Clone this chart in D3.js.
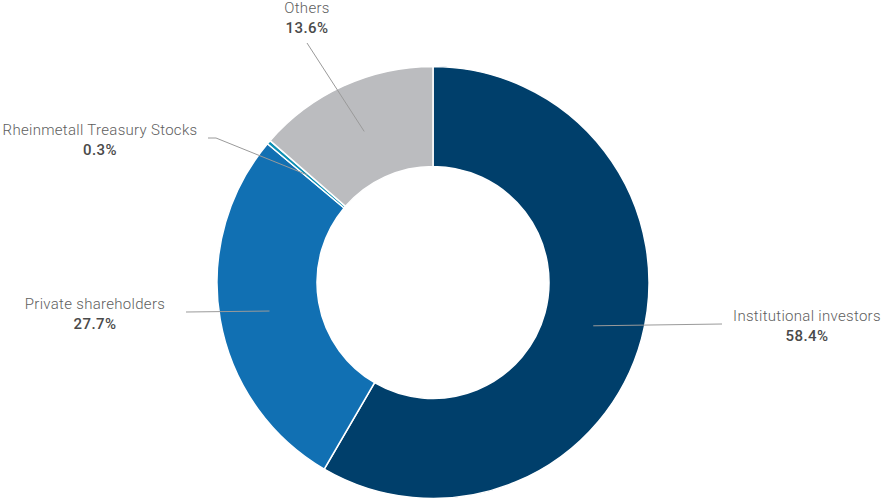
<!DOCTYPE html>
<html>
  <head>
    <meta charset="utf-8">
    <title>Shareholder structure</title>
    <script src="https://d3js.org/d3.v7.min.js"></script>
    <style>
    body { margin: 0; background: #fff; }
    .name { font-family: Roboto, sans-serif; font-size: 15px; font-weight: 300; fill: #5e5e5e; letter-spacing: 0.3px; }
    .pct { font-family: Roboto, sans-serif; font-size: 15px; font-weight: 500; fill: #4a4a4a; letter-spacing: 0.4px; }
    .leader { stroke: #9a9a9a; stroke-width: 1; fill: none; }
    </style>
  </head>
  <body>
<svg width="883" height="499"></svg>
<script>
// shareholder groups, clockwise from 12 o'clock
var groups = ['Institutional investors', 'Private shareholders', 'Rheinmetall Treasury Stocks', 'Others'];
var shares = [58.4, 27.7, 0.3, 13.6];
var colors = ['#003f6b', '#1170b3', '#0d8fb3', '#bbbcbf'];

// where each label sits (centre x, first baseline) and where its leader starts
var labelAt = [
  { x: 807, y: 321, lx: [722], ly: [324] },
  { x: 95,  y: 309, lx: [186], ly: [312] },
  { x: 100, y: 135, lx: [208, 216], ly: [138, 138] },
  { x: 307, y: 13,  lx: [307], ly: [43] }
];

var cx = 433, cy = 282.5, rOut = 216, rIn = 116;

var svg = d3.select('svg');
var g = svg.append('g').attr('transform', 'translate(' + cx + ',' + cy + ')');

var pie = d3.pie().sort(null).value(function(d) { return d; });
var arcs = pie(shares);
var arc = d3.arc().innerRadius(rIn).outerRadius(rOut);

g.selectAll('path.slice')
  .data(arcs)
  .enter().append('path')
    .attr('class', 'slice')
    .attr('d', arc)
    .attr('fill', function(d, i) { return colors[i]; })
    .attr('stroke', '#fff')
    .attr('stroke-width', 1.5);

// leader lines to the middle of each ring segment
arcs.forEach(function(d, i) {
  var c = arc.centroid(d);
  var pts = [];
  labelAt[i].lx.forEach(function(x, k) { pts.push([x, labelAt[i].ly[k]]); });
  pts.push([c[0] + cx, c[1] + cy]);
  svg.append('path')
    .attr('class', 'leader')
    .attr('d', d3.line()(pts));
});

groups.forEach(function(name, i) {
  var p = labelAt[i];
  svg.append('text').attr('class', 'name')
    .attr('x', p.x).attr('y', p.y)
    .attr('text-anchor', 'middle')
    .text(name);
  svg.append('text').attr('class', 'pct')
    .attr('x', p.x).attr('y', p.y + 19.5)
    .attr('text-anchor', 'middle')
    .text(shares[i].toFixed(1) + '%');
});
</script>
  </body>
</html>
